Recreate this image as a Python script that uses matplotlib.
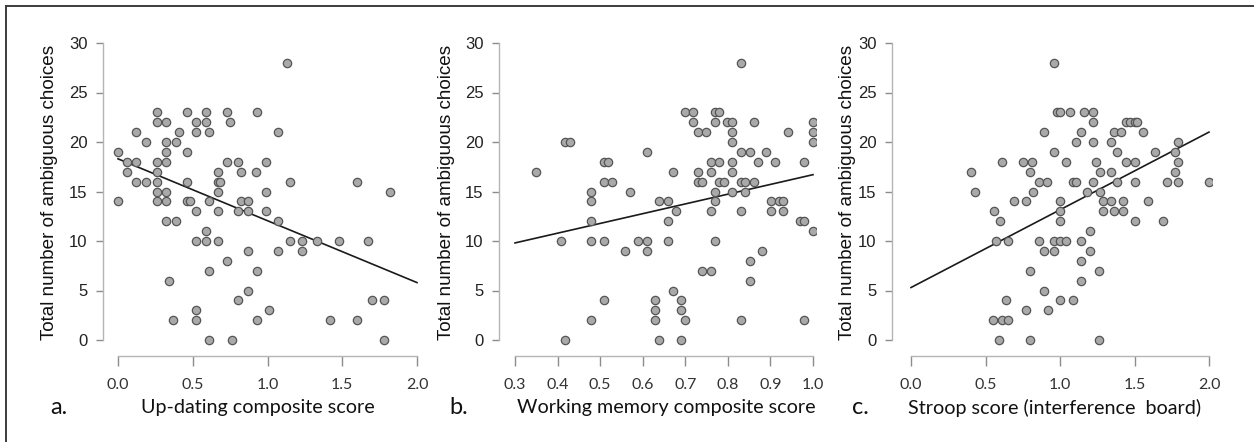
import numpy as np
import matplotlib
matplotlib.use("Agg")
import matplotlib.pyplot as plt
from matplotlib.lines import Line2D

# ---- data ----
updating_x = [0.00, 0.00, 0.06, 0.06, 0.12, 0.12, 0.12, 0.19, 0.19, 0.26, 0.26, 0.26, 0.26, 0.26,
              0.26, 0.26, 0.32, 0.32, 0.32, 0.32, 0.32, 0.32, 0.32, 0.34, 0.37, 0.39, 0.39, 0.41,
              0.46, 0.46, 0.46, 0.46, 0.48, 0.52, 0.52, 0.52, 0.52, 0.52, 0.52, 0.59, 0.59, 0.59,
              0.59, 0.61, 0.61, 0.61, 0.61, 0.67, 0.67, 0.68, 0.67, 0.67, 0.67, 0.73, 0.75, 0.73,
              0.73, 0.76, 0.80, 0.80, 0.80, 0.82, 0.82, 0.87, 0.87, 0.87, 0.87, 0.92, 0.93, 0.93,
              0.93, 0.99, 0.99, 0.99, 1.01, 1.07, 1.07, 1.07, 1.13, 1.15, 1.15, 1.23, 1.23, 1.33,
              1.42, 1.48, 1.60, 1.60, 1.67, 1.70, 1.78, 1.78, 1.82]
updating_y = [19, 14, 18, 17, 21, 18, 16, 20, 16, 23, 22, 18, 17, 16,
              15, 14, 22, 20, 19, 18, 15, 14, 12, 6, 2, 20, 12, 21,
              23, 19, 16, 14, 14, 22, 21, 13, 10, 3, 2, 23, 22, 11,
              10, 21, 14, 7, 0, 17, 16, 16, 15, 13, 10, 23, 22, 18,
              8, 0, 18, 13, 4, 17, 14, 14, 13, 9, 5, 17, 23, 7,
              2, 18, 15, 13, 3, 21, 12, 9, 28, 16, 10, 10, 9, 10,
              2, 10, 16, 2, 10, 4, 4, 0, 15]

wm_x = [0.349, 0.408, 0.418, 0.429, 0.418, 0.479, 0.479, 0.479, 0.479, 0.479, 0.508, 0.519,
        0.508, 0.529, 0.508, 0.508, 0.559, 0.569, 0.588, 0.610, 0.610, 0.610, 0.629, 0.629,
        0.629, 0.639, 0.639, 0.660, 0.660, 0.660, 0.670, 0.670, 0.679, 0.690, 0.690, 0.690,
        0.700, 0.700, 0.719, 0.719, 0.730, 0.730, 0.730, 0.740, 0.740, 0.749, 0.760, 0.760,
        0.760, 0.760, 0.770, 0.780, 0.770, 0.780, 0.770, 0.770, 0.770, 0.780, 0.790, 0.799,
        0.810, 0.810, 0.810, 0.810, 0.810, 0.810, 0.831, 0.831, 0.831, 0.831, 0.831, 0.840,
        0.840, 0.851, 0.851, 0.851, 0.861, 0.861, 0.871, 0.880, 0.890, 0.901, 0.901, 0.911,
        0.921, 0.930, 0.930, 0.941, 0.970, 0.980, 0.980, 0.980, 1.000, 1.000, 1.000, 1.000]
wm_y = [17, 10, 20, 20, 0, 15, 14, 12, 10, 2, 18, 18,
        16, 16, 10, 4, 9, 15, 10, 19, 10, 9, 4, 3,
        2, 14, 0, 14, 12, 10, 17, 5, 13, 4, 3, 0,
        2, 23, 23, 22, 21, 17, 16, 16, 7, 21, 18, 17,
        13, 7, 23, 23, 22, 18, 15, 14, 10, 16, 16, 22,
        22, 21, 20, 18, 17, 15, 28, 19, 16, 13, 2, 16,
        15, 19, 8, 6, 22, 16, 18, 9, 19, 14, 13, 18,
        14, 14, 13, 21, 12, 12, 18, 2, 22, 21, 20, 11]

stroop_x = [0.40, 0.43, 0.56, 0.60, 0.57, 0.65, 0.61, 0.55, 0.61, 0.65, 0.59, 0.64, 0.69,
            0.75, 0.77, 0.81, 0.80, 0.82, 0.77, 0.80, 0.80, 0.86, 0.86, 0.89, 0.89, 0.89,
            0.91, 0.92, 0.96, 0.96, 0.96, 0.96, 0.98, 1.00, 1.00, 1.00, 1.00, 1.00, 1.00,
            1.04, 1.04, 1.07, 1.09, 1.11, 1.09, 1.11, 1.14, 1.14, 1.14, 1.14, 1.16, 1.18,
            1.20, 1.20, 1.22, 1.22, 1.22, 1.22, 1.24, 1.26, 1.26, 1.27, 1.27, 1.29, 1.29,
            1.34, 1.34, 1.34, 1.36, 1.36, 1.38, 1.38, 1.41, 1.42, 1.42, 1.44, 1.44, 1.47,
            1.50, 1.52, 1.50, 1.50, 1.50, 1.56, 1.59, 1.64, 1.69, 1.72, 1.77, 1.77, 1.79,
            1.79, 1.79, 2.00]
stroop_y = [17, 15, 13, 12, 10, 10, 18, 2, 2, 2, 0, 4, 14,
            18, 14, 18, 17, 15, 3, 7, 0, 16, 10, 21, 9, 5,
            16, 3, 19, 10, 9, 28, 23, 23, 14, 13, 12, 10, 4,
            10, 18, 23, 16, 16, 4, 20, 21, 10, 8, 6, 23, 15,
            11, 9, 23, 22, 20, 16, 18, 7, 0, 17, 15, 14, 13,
            20, 17, 14, 21, 13, 19, 16, 21, 14, 13, 18, 22, 22,
            22, 22, 18, 16, 12, 21, 14, 19, 12, 16, 17, 19, 20,
            18, 16, 16]

# regression lines (intercept, slope)
fit_updating = (18.3, -6.25)
fit_wm = (6.85, 9.85)
fit_stroop = (5.3, 7.85)

y_ticks = [0, 5, 10, 15, 20, 25, 30]
ticks_ac = [0.0, 0.5, 1.0, 1.5, 2.0]
ticks_b = [0.3, 0.4, 0.5, 0.6, 0.7, 0.8, 0.9, 1.0]

panel_letters = ["a.", "b.", "c."]
x_titles = ["Up-dating composite score", "Working memory composite score",
            "Stroop score (interference  board)"]
y_title = "Total number of ambiguous choices"

W, H = 1254, 442
fig = plt.figure(figsize=(W / 100, H / 100), dpi=100)
fig.patch.set_facecolor("white")

Y_FONT = "Liberation Sans"
X_FONT = ["Lato", "DejaVu Sans"]


def make_panel(spine_px, x0_px, x1_px, ticks, xs, ys, fit, labelfmt):
    """spine_px: pixel column of y-axis, x0_px/x1_px: pixel of first/last x tick."""
    top_px, bot_px = 40, 356
    right_px = x1_px + 3
    ax = fig.add_axes([spine_px / W, 1 - bot_px / H, (right_px - spine_px) / W, (bot_px - top_px) / H])
    t0, t1 = ticks[0], ticks[-1]
    per = (x1_px - x0_px) / (t1 - t0)
    ax.set_xlim(t0 - (x0_px - spine_px) / per, t1 + (right_px - x1_px) / per)
    ypx = (340 - 43) / 30.0
    ax.set_ylim(-(bot_px - 340) / ypx, 30 + (43 - top_px) / ypx)

    xx = np.array([t0, t1])
    ax.plot(xx, fit[0] + fit[1] * xx, color="#1a1a1a", lw=1.2, zorder=2)
    ax.scatter(xs, ys, s=36, facecolor="#a9a9a9", edgecolor="#555555", linewidths=0.9, zorder=3)

    for s in ["top", "right"]:
        ax.spines[s].set_visible(False)
    for s in ["left", "bottom"]:
        ax.spines[s].set_color("#b5b5b5")
        ax.spines[s].set_linewidth(1.0)
    ax.spines["left"].set_bounds(0, 30)
    ax.spines["bottom"].set_bounds(t0, t1)

    ax.set_yticks(y_ticks)
    ax.set_yticklabels([str(v) for v in y_ticks], fontfamily=Y_FONT, fontsize=12, color="#222222")
    ax.set_xticks(ticks)
    ax.set_xticklabels([labelfmt.format(v) for v in ticks], fontfamily=X_FONT, fontsize=11.5, color="#333333")
    ax.tick_params(axis="y", direction="out", length=5, width=1, color="#8c8c8c", pad=6)
    ax.tick_params(axis="x", direction="out", length=7, width=1, color="#8c8c8c", pad=9)
    ax.patch.set_alpha(0)
    return ax


make_panel(103, 118, 417, ticks_ac, updating_x, updating_y, fit_updating, "{:.1f}")
make_panel(499, 515, 813, ticks_b, wm_x, wm_y, fit_wm, "{:.1f}")
make_panel(892, 911, 1209, ticks_ac, stroop_x, stroop_y, fit_stroop, "{:.1f}")

# y titles
for cx in [50, 447, 848]:
    fig.text(cx / W, 1 - 192 / H, y_title, rotation=90, ha="center", va="center",
             fontfamily=Y_FONT, fontsize=13.6, color="#111111")

# panel letters and x titles
for lx, letter in zip([59, 459, 860], panel_letters):
    fig.text(lx / W, 1 - 408 / H, letter, ha="center", va="center",
             fontfamily=X_FONT, fontsize=17, color="#111111")
for tx, title in zip([258, 666, 1055], x_titles):
    fig.text(tx / W, 1 - 408 / H, title, ha="center", va="center",
             fontfamily=X_FONT, fontsize=14.2, color="#111111")

# partial outer frame (left and top edge visible in the original)
fig.add_artist(Line2D([6 / W, 6 / W], [0, 1 - 6 / H], transform=fig.transFigure, color="#3c3c3c", lw=1.4))
fig.add_artist(Line2D([6 / W, 1], [1 - 6 / H, 1 - 6 / H], transform=fig.transFigure, color="#3c3c3c", lw=1.4))

fig.savefig("out.png", dpi=100)
